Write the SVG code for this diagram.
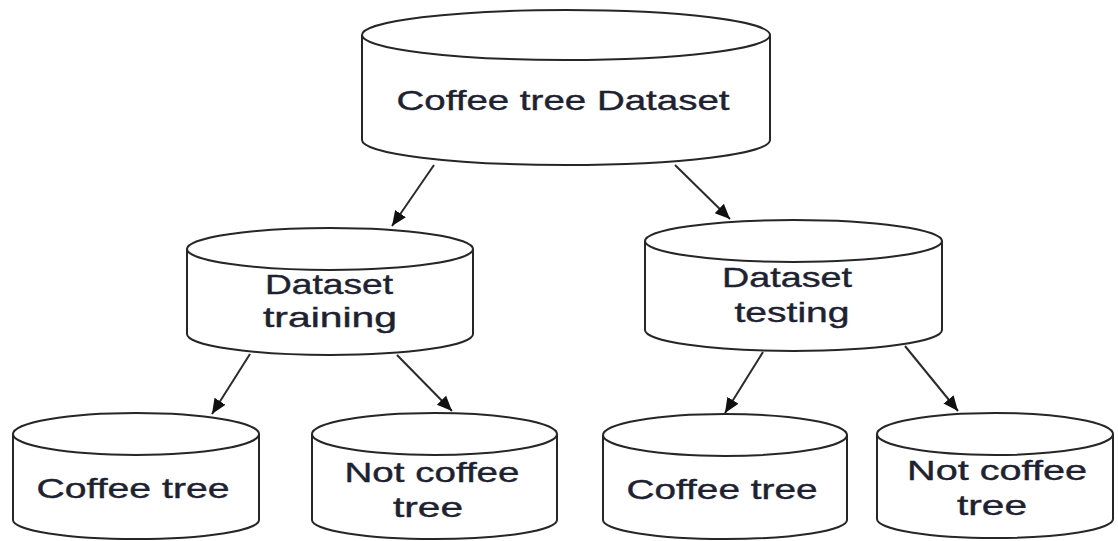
<svg xmlns="http://www.w3.org/2000/svg" width="1118" height="541" viewBox="0 0 1118 541">
  <style>
    .body { fill: #ffffff; stroke: #262626; stroke-width: 2; }
    .rim { fill: none; stroke: #262626; stroke-width: 2; }
    .label { font-family: "Liberation Sans", Arial, sans-serif; font-size: 28px; fill: #1e2230; stroke: #1e2230; stroke-width: 0.4; text-anchor: middle; }
    .link { stroke: #2a2a2a; stroke-width: 2; fill: none; marker-end: url(#head); }
  </style>
  <defs>
    <marker id="head" markerUnits="userSpaceOnUse" markerWidth="16" markerHeight="16" viewBox="0 0 16 16" refX="15" refY="8" orient="auto">
      <path d="M0,1.5 L15,8 L0,14.5 Z" fill="#111111"/>
    </marker>
  </defs>

  <!-- connectors -->
  <g id="connectors">
    <line class="link" x1="434" y1="165" x2="392" y2="226"/>
    <line class="link" x1="675" y1="165" x2="730" y2="219"/>
    <line class="link" x1="250" y1="354" x2="212" y2="414"/>
    <line class="link" x1="397" y1="355" x2="452" y2="411"/>
    <line class="link" x1="763" y1="352" x2="725" y2="413"/>
    <line class="link" x1="905" y1="346" x2="958" y2="411"/>
  </g>

  <!-- root store -->
  <g id="coffee-tree-dataset">
    <path class="body" d="M362,35 A204,25 0 0 1 770,35 L770,140 A204,25 0 0 1 362,140 Z"/>
    <path class="rim" d="M362,35 A204,25 0 0 0 770,35"/>
    <text class="label" x="563" y="110" textLength="333" lengthAdjust="spacingAndGlyphs">Coffee tree Dataset</text>
  </g>

  <g id="dataset-training">
    <path class="body" d="M187,249 A143,21 0 0 1 473,249 L473,334 A143,21 0 0 1 187,334 Z"/>
    <path class="rim" d="M187,249 A143,21 0 0 0 473,249"/>
    <text class="label" x="329" y="294" textLength="128" lengthAdjust="spacingAndGlyphs">Dataset</text>
    <text class="label" x="330" y="327" textLength="134" lengthAdjust="spacingAndGlyphs">training</text>
  </g>

  <g id="dataset-testing">
    <path class="body" d="M645,241 A148.5,21 0 0 1 942,241 L942,330 A148.5,21 0 0 1 645,330 Z"/>
    <path class="rim" d="M645,241 A148.5,21 0 0 0 942,241"/>
    <text class="label" x="787" y="287" textLength="130" lengthAdjust="spacingAndGlyphs">Dataset</text>
    <text class="label" x="792" y="322" textLength="115" lengthAdjust="spacingAndGlyphs">testing</text>
  </g>

  <g id="training-coffee-tree">
    <path class="body" d="M13,434 A123,21 0 0 1 259,434 L259,520 A123,19 0 0 1 13,520 Z"/>
    <path class="rim" d="M13,434 A123,21 0 0 0 259,434"/>
    <text class="label" x="133" y="498" textLength="193" lengthAdjust="spacingAndGlyphs">Coffee tree</text>
  </g>

  <g id="training-not-coffee-tree">
    <path class="body" d="M312,434 A122.5,21 0 0 1 557,434 L557,520 A122.5,19 0 0 1 312,520 Z"/>
    <path class="rim" d="M312,434 A122.5,21 0 0 0 557,434"/>
    <text class="label" x="432" y="482" textLength="175" lengthAdjust="spacingAndGlyphs">Not coffee</text>
    <text class="label" x="428" y="517" textLength="70" lengthAdjust="spacingAndGlyphs">tree</text>
  </g>

  <g id="testing-coffee-tree">
    <path class="body" d="M603,435 A122,21 0 0 1 847,435 L847,520 A122,19 0 0 1 603,520 Z"/>
    <path class="rim" d="M603,435 A122,21 0 0 0 847,435"/>
    <text class="label" x="722" y="499" textLength="191" lengthAdjust="spacingAndGlyphs">Coffee tree</text>
  </g>

  <g id="testing-not-coffee-tree">
    <path class="body" d="M877,434 A118,21 0 0 1 1113,434 L1113,519 A118,19 0 0 1 877,519 Z"/>
    <path class="rim" d="M877,434 A118,21 0 0 0 1113,434"/>
    <text class="label" x="997" y="480" textLength="180" lengthAdjust="spacingAndGlyphs">Not coffee</text>
    <text class="label" x="992" y="515" textLength="70" lengthAdjust="spacingAndGlyphs">tree</text>
  </g>
</svg>
